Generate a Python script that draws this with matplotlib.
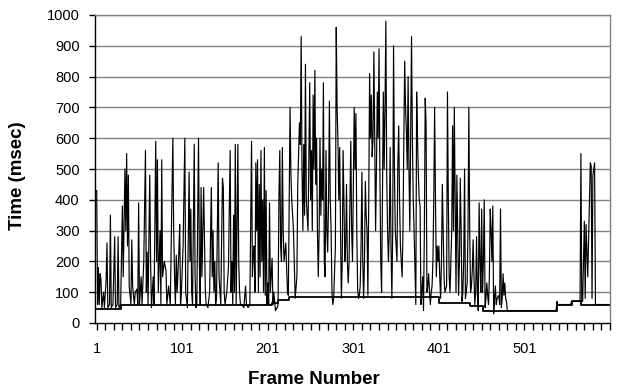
import matplotlib
matplotlib.use("Agg")
import matplotlib.pyplot as plt
from matplotlib.ticker import FixedLocator, NullFormatter

# Spiky per-frame processing time (frame, msec)
time_frames = [
    1, 2, 3, 4, 5, 6, 7, 9, 10, 12, 13, 14, 16, 17, 18, 20, 22, 23, 25, 26, 27, 29, 31, 32, 34, 35, 36, 37, 38, 39, 41, 42, 43, 45, 46, 48, 49,
    50, 51, 53, 54, 56, 58, 59, 60, 61, 63, 64, 65, 67, 68, 70, 71, 72, 73, 75, 76, 77, 78, 80, 82, 83, 85, 87, 90, 91, 92, 93, 94, 95, 97, 98, 99,
    100, 102, 104, 105, 107, 109, 110, 111, 112, 113, 115, 116, 117, 118, 120, 121, 122, 123, 124, 126, 127, 128, 129, 131, 133, 135, 136, 137, 138, 139, 140, 141, 143, 144, 146, 148, 149, 150,
    151, 153, 155, 157, 158, 159, 160, 161, 162, 163, 164, 166, 167, 168, 169, 171, 173, 175, 176, 178, 180, 182, 183, 184, 185, 186, 187, 188, 189, 190, 191, 192, 193, 194, 195, 196, 197, 198,
    199, 200, 201, 202, 203, 204, 206, 207, 208, 210, 212, 213, 214, 215, 216, 217, 218, 219, 220, 222, 224, 225, 227, 228, 229, 231, 233, 235, 236, 238, 239, 240, 241, 242, 243, 244, 245, 246, 248,
    250, 251, 252, 253, 254, 255, 256, 257, 258, 259, 260, 261, 262, 263, 264, 265, 266, 267, 268, 269, 270, 271, 272, 273, 274, 275, 276, 277, 278, 280, 281, 282, 283, 284, 285, 286, 287, 288, 289, 290, 291, 292, 293, 294, 295, 296, 298, 299,
    300, 302, 303, 304, 305, 306, 307, 308, 309, 310, 311, 312, 313, 314, 315, 316, 317, 318, 319, 320, 321, 322, 323, 324, 325, 326, 327, 328, 329, 330, 331, 332, 333, 334, 335, 336, 337, 338, 339, 340, 341, 342, 343, 344, 345, 346, 347, 348, 349,
    350, 351, 352, 353, 354, 355, 356, 357, 358, 359, 360, 361, 362, 363, 364, 365, 366, 367, 368, 369, 370, 371, 372, 373, 374, 375, 376, 377, 378, 379, 380, 381, 382, 383, 384, 385, 386, 387, 388, 389, 390, 391, 392, 393, 394, 395, 396, 397, 398, 399,
    400, 401, 402, 403, 404, 405, 406, 407, 408, 410, 411, 412, 413, 414, 415, 416, 417, 418, 419, 420, 421, 422, 423, 424, 425, 426, 427, 428, 429, 430, 431, 432, 433, 434, 435, 436, 437, 438, 439, 440, 441, 442, 443, 444, 445, 446, 447, 448, 449,
    450, 451, 452, 453, 454, 455, 456, 457, 458, 459, 460, 461, 462, 463, 464, 465, 466, 467, 468, 469, 471, 472, 473, 474, 475, 476, 477, 478, 479, 480, 481,
    500, 538, 539, 540, 555, 556, 566, 567, 568, 569, 571, 572, 573, 575, 578, 579, 580, 581, 583, 584, 600,
]
time_ms = [
    430, 60, 180, 60, 160, 140, 50, 100, 50, 140, 260, 50, 60, 350, 50, 60, 280, 50, 60, 280, 50, 60, 380, 150, 500, 300, 550, 250, 480, 120, 60, 270, 120, 60, 100, 110, 60,
    390, 60, 150, 60, 200, 560, 100, 230, 60, 480, 200, 50, 150, 60, 590, 200, 530, 100, 300, 60, 530, 150, 200, 170, 60, 120, 60, 600, 300, 150, 60, 220, 100, 230, 320, 60,
    100, 250, 600, 100, 50, 490, 200, 370, 100, 60, 580, 150, 50, 60, 600, 200, 60, 440, 150, 440, 280, 100, 60, 50, 100, 440, 150, 300, 100, 200, 60, 80, 520, 150, 60, 470, 440, 100,
    60, 100, 180, 560, 100, 200, 60, 350, 100, 580, 60, 580, 200, 100, 60, 60, 50, 120, 60, 50, 60, 590, 150, 220, 250, 100, 520, 300, 530, 100, 450, 150, 560, 200, 400, 100, 570, 90,
    430, 60, 130, 60, 390, 100, 210, 60, 100, 40, 50, 60, 410, 560, 250, 200, 570, 300, 200, 260, 100, 90, 700, 480, 400, 300, 80, 150, 450, 650, 580, 930, 500, 300, 580, 350, 840, 400, 300,
    780, 400, 560, 300, 740, 500, 820, 450, 600, 300, 150, 300, 600, 350, 500, 400, 780, 200, 150, 560, 300, 230, 400, 720, 400, 300, 100, 60, 80, 250, 960, 700, 590, 400, 570, 300, 80, 200, 560, 400, 200, 250, 450, 200, 130, 200, 590, 300,
    200, 700, 500, 680, 300, 110, 80, 90, 120, 250, 490, 200, 80, 200, 460, 350, 300, 90, 400, 810, 600, 740, 540, 600, 880, 600, 300, 500, 750, 600, 890, 500, 200, 100, 400, 750, 500, 700, 980, 480, 300, 200, 300, 570, 250, 80, 300, 900, 500,
    300, 250, 200, 520, 640, 400, 250, 200, 150, 300, 600, 850, 700, 620, 500, 800, 500, 300, 600, 930, 600, 400, 300, 180, 60, 750, 600, 480, 400, 380, 60, 100, 150, 40, 300, 730, 650, 100, 120, 160, 100, 60, 100, 120, 200, 400, 700, 400, 150, 250,
    200, 250, 150, 80, 200, 450, 300, 150, 100, 120, 750, 400, 150, 100, 200, 300, 640, 300, 700, 400, 100, 480, 300, 90, 200, 470, 300, 70, 100, 200, 500, 80, 100, 130, 300, 700, 300, 100, 120, 170, 270, 150, 60, 100, 280, 100, 40, 390, 200,
    100, 370, 100, 200, 400, 50, 80, 130, 90, 60, 150, 370, 300, 200, 380, 30, 80, 120, 60, 80, 90, 60, 370, 50, 80, 160, 90, 130, 80, 70, 40,
    40, 40, 70, 60, 60, 70, 70, 550, 70, 70, 330, 80, 320, 150, 520, 510, 80, 480, 520, 60, 60,
]

# Lower step line (frame where level starts, msec)
base_frames = [1, 29, 206, 213, 226, 401, 437, 452, 539, 556, 567, 601]
base_ms = [45, 57, 65, 75, 83, 65, 55, 40, 58, 70, 58, 58]

x_tick_labels = [1, 101, 201, 301, 401, 501]
y_ticks = list(range(0, 1001, 100))

plt.rcParams['font.family'] = ['Liberation Sans', 'DejaVu Sans']

fig = plt.figure(figsize=(6.17, 3.92), dpi=100)
ax = fig.add_axes([95 / 617, 1 - 323 / 392, (610 - 95) / 617, (323 - 15) / 392])

for v in y_ticks[1:]:
    ax.axhline(v, color='#808080', lw=1.0, zorder=1)

ax.plot(time_frames, time_ms, color='black', lw=0.85, zorder=3)
ax.step(base_frames, base_ms, where='post', color='black', lw=1.3, zorder=2)

ax.set_xlim(-1, 601)
ax.set_ylim(0, 1000)
ax.set_yticks(y_ticks)
ax.set_yticklabels([str(v) for v in y_ticks], fontsize=10.5)

ax.xaxis.set_major_locator(FixedLocator(x_tick_labels))
ax.set_xticklabels([str(v) for v in x_tick_labels], fontsize=10.5)
ax.xaxis.set_minor_locator(FixedLocator(list(range(1, 602, 10))))
ax.xaxis.set_minor_formatter(NullFormatter())
ax.tick_params(axis='x', which='both', direction='out', length=5, width=1, pad=9)
ax.tick_params(axis='y', direction='out', length=4, width=1, pad=7)

for s in ['left', 'bottom', 'right', 'top']:
    ax.spines[s].set_color('black')
    ax.spines[s].set_linewidth(1.0)
ax.spines['top'].set_color('#808080')
ax.spines['right'].set_color('#808080')

ax.set_xlabel('Frame Number', fontsize=13.5, fontweight='bold')
ax.set_ylabel('Time (msec)', fontsize=13.5, fontweight='bold')
ax.xaxis.set_label_coords((314 - 95) / 515, -(380 - 323) / 308, transform=ax.transAxes)
ax.yaxis.set_label_coords(-(95 - 18) / 515, (323 - 176) / 308, transform=ax.transAxes)
ax.xaxis.label.set_va('center')
ax.yaxis.label.set_va('center')

fig.savefig('out.png', dpi=100)
